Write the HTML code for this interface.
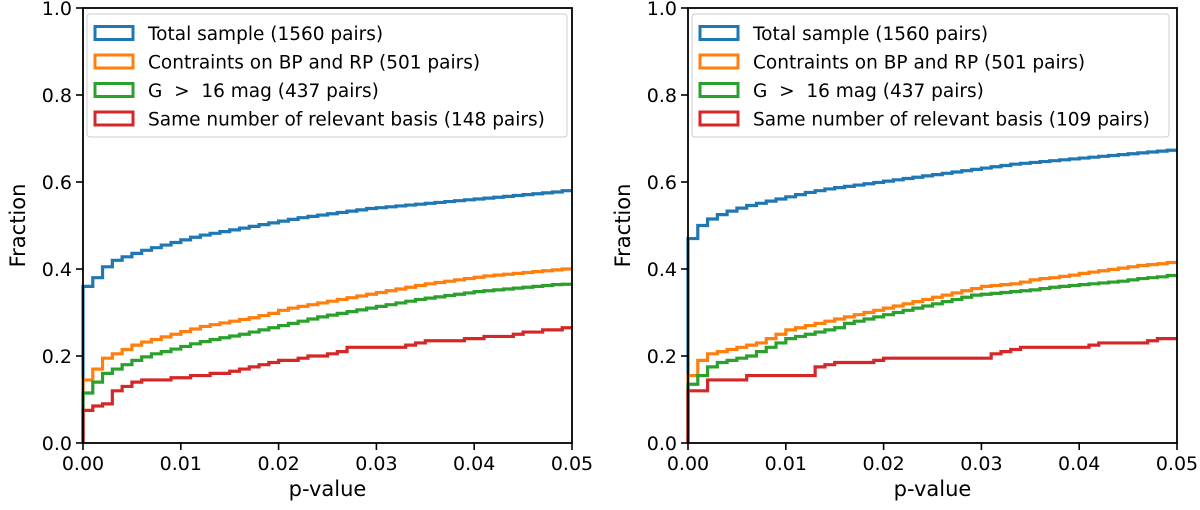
<!DOCTYPE html>
<html><head><meta charset="utf-8"><style>
body{margin:0;background:#fff;}
svg text{font-family:"DejaVu Sans","Liberation Sans",sans-serif;fill:#000;white-space:pre;}
</style></head><body>
<svg id="chart" width="1200" height="505" xmlns="http://www.w3.org/2000/svg"></svg>
<script>
const pBins = 50;
const xTicks = ["0.00","0.01","0.02","0.03","0.04","0.05"];
const yTicks = ["0.0","0.2","0.4","0.6","0.8","1.0"];
const leftLabels = ["Total sample (1560 pairs)","Contraints on BP and RP (501 pairs)","G\u00a0\u00a0>\u00a0\u00a016 mag (437 pairs)","Same number of relevant basis (148 pairs)"];
const rightLabels = ["Total sample (1560 pairs)","Contraints on BP and RP (501 pairs)","G\u00a0\u00a0>\u00a0\u00a016 mag (437 pairs)","Same number of relevant basis (109 pairs)"];
const leftBlue = [0.36,0.38,0.405,0.42,0.428,0.436,0.443,0.449,0.455,0.461,0.467,0.473,0.478,0.482,0.486,0.490,0.494,0.498,0.502,0.506,0.510,0.514,0.518,0.521,0.524,0.527,0.530,0.533,0.536,0.539,0.541,0.543,0.545,0.547,0.549,0.551,0.553,0.555,0.557,0.559,0.561,0.563,0.565,0.567,0.569,0.571,0.573,0.575,0.577,0.580];
const leftOrange = [0.145,0.17,0.195,0.205,0.215,0.225,0.232,0.238,0.244,0.25,0.256,0.262,0.268,0.272,0.276,0.28,0.284,0.288,0.293,0.298,0.305,0.31,0.314,0.318,0.322,0.326,0.33,0.334,0.338,0.342,0.346,0.35,0.354,0.358,0.362,0.366,0.369,0.372,0.375,0.378,0.381,0.384,0.386,0.388,0.39,0.392,0.394,0.396,0.398,0.40];
const leftGreen = [0.115,0.14,0.16,0.17,0.18,0.19,0.198,0.205,0.21,0.216,0.222,0.228,0.233,0.238,0.242,0.246,0.25,0.255,0.26,0.265,0.27,0.275,0.28,0.285,0.29,0.294,0.298,0.302,0.306,0.31,0.314,0.318,0.322,0.326,0.33,0.333,0.336,0.339,0.342,0.345,0.348,0.35,0.352,0.354,0.356,0.358,0.36,0.362,0.364,0.365];
const leftRed = [0.075,0.085,0.09,0.12,0.13,0.14,0.145,0.145,0.145,0.15,0.15,0.155,0.155,0.16,0.16,0.165,0.17,0.175,0.18,0.185,0.19,0.19,0.195,0.2,0.2,0.205,0.21,0.22,0.22,0.22,0.22,0.22,0.22,0.225,0.23,0.235,0.235,0.235,0.235,0.24,0.24,0.245,0.245,0.245,0.25,0.255,0.255,0.26,0.26,0.265];
const rightBlue = [0.47,0.5,0.515,0.525,0.533,0.54,0.546,0.551,0.556,0.561,0.566,0.571,0.576,0.58,0.584,0.587,0.59,0.593,0.596,0.599,0.602,0.605,0.608,0.611,0.614,0.617,0.62,0.623,0.626,0.629,0.632,0.635,0.638,0.641,0.643,0.645,0.647,0.649,0.651,0.653,0.655,0.657,0.659,0.661,0.663,0.665,0.667,0.669,0.671,0.673];
const rightOrange = [0.155,0.19,0.205,0.21,0.215,0.22,0.225,0.23,0.24,0.25,0.26,0.265,0.27,0.275,0.28,0.285,0.29,0.295,0.3,0.305,0.31,0.315,0.32,0.325,0.33,0.335,0.34,0.345,0.35,0.355,0.36,0.362,0.364,0.366,0.37,0.375,0.378,0.38,0.383,0.386,0.39,0.393,0.396,0.399,0.402,0.405,0.408,0.41,0.412,0.415];
const rightGreen = [0.135,0.155,0.175,0.185,0.19,0.195,0.2,0.21,0.22,0.23,0.24,0.245,0.25,0.255,0.26,0.265,0.275,0.28,0.285,0.29,0.295,0.3,0.305,0.31,0.315,0.32,0.325,0.33,0.335,0.34,0.342,0.344,0.346,0.348,0.35,0.352,0.355,0.358,0.36,0.362,0.364,0.366,0.368,0.37,0.372,0.375,0.378,0.38,0.382,0.385];
const rightRed = [0.12,0.12,0.145,0.145,0.145,0.145,0.155,0.155,0.155,0.155,0.155,0.155,0.155,0.175,0.18,0.185,0.185,0.185,0.185,0.19,0.195,0.195,0.195,0.195,0.195,0.195,0.195,0.195,0.195,0.195,0.195,0.205,0.21,0.215,0.22,0.22,0.22,0.22,0.22,0.22,0.22,0.225,0.23,0.23,0.23,0.23,0.23,0.235,0.24,0.24];
const colors = ["#1f77b4","#ff7f0e","#2ca02c","#d62728"];

const NS = "http://www.w3.org/2000/svg";
const svg = document.getElementById("chart");
function mk(tag, attrs, parent){const e=document.createElementNS(NS,tag);for(const k in attrs)e.setAttribute(k,attrs[k]);(parent||svg).appendChild(e);return e;}

function panel(x0, x1, series, labels, tag){
  const yTop=8, yBot=443;
  const g = mk("g",{});
  
  
  const xs = v => x0 + (v/0.05)*(x1-x0);
  const ys = v => yBot - v*(yBot-yTop);
  series.forEach((arr,si)=>{
    let d = "M"+xs(0)+","+ys(0);
    arr.forEach((v,i)=>{
      const a=i*0.05/pBins, b=(i+1)*0.05/pBins;
      d += " L"+xs(a)+","+ys(v)+" L"+xs(b)+","+ys(v);
    });
    const p = mk("path",{d:d,fill:"none",stroke:colors[si],"stroke-width":3.2,"stroke-linejoin":"miter"},g);
    
    
  });
  const frame = mk("rect",{x:x0,y:yTop,width:x1-x0,height:yBot-yTop,fill:"none",stroke:"#000","stroke-width":1.8},g);
  
  
  xTicks.forEach(t=>{
    const x = xs(parseFloat(t));
    mk("line",{x1:x,x2:x,y1:yBot,y2:yBot+7,stroke:"#000","stroke-width":1.6},g);
    const tx = mk("text",{x:x,y:yBot+27,"text-anchor":"middle","font-size":19},g);
    tx.textContent=t;
    
    
  });
  yTicks.forEach(t=>{
    const y = ys(parseFloat(t));
    mk("line",{x1:x0-7,x2:x0,y1:y,y2:y,stroke:"#000","stroke-width":1.6},g);
    const tx = mk("text",{x:x0-11,y:y+7,"text-anchor":"end","font-size":19},g);
    tx.textContent=t;
    
    
  });
  const xl = mk("text",{x:(x0+x1)/2,y:yBot+53,"text-anchor":"middle","font-size":21},g);
  xl.textContent="p-value";
  
  
  const yl = mk("text",{x:0,y:0,"text-anchor":"middle","font-size":21,transform:"translate("+(x0-58)+","+((yTop+yBot)/2)+") rotate(-90)"},g);
  yl.textContent="Fraction";
  
  
  const lg = mk("g",{},g);
  
  
  const bw = tag==="left"?480:477;
  mk("rect",{x:x0+4,y:yTop+6,width:bw,height:123,rx:3,fill:"#fff","fill-opacity":0.8,stroke:"#ccc","stroke-width":1},lg);
  labels.forEach((l,i)=>{
    const cy = 33 + i*28.5;
    mk("rect",{x:x0+12,y:cy-6.5,width:38,height:13,fill:"none",stroke:colors[i],"stroke-width":3},lg);
    const t = mk("text",{x:x0+65,y:cy+7,"font-size":18.5},lg);
    t.textContent=l;
    
    
  });
}
panel(83,572,[leftBlue,leftOrange,leftGreen,leftRed],leftLabels,"left");
panel(688,1177,[rightBlue,rightOrange,rightGreen,rightRed],rightLabels,"right");
</script>
</body></html>
